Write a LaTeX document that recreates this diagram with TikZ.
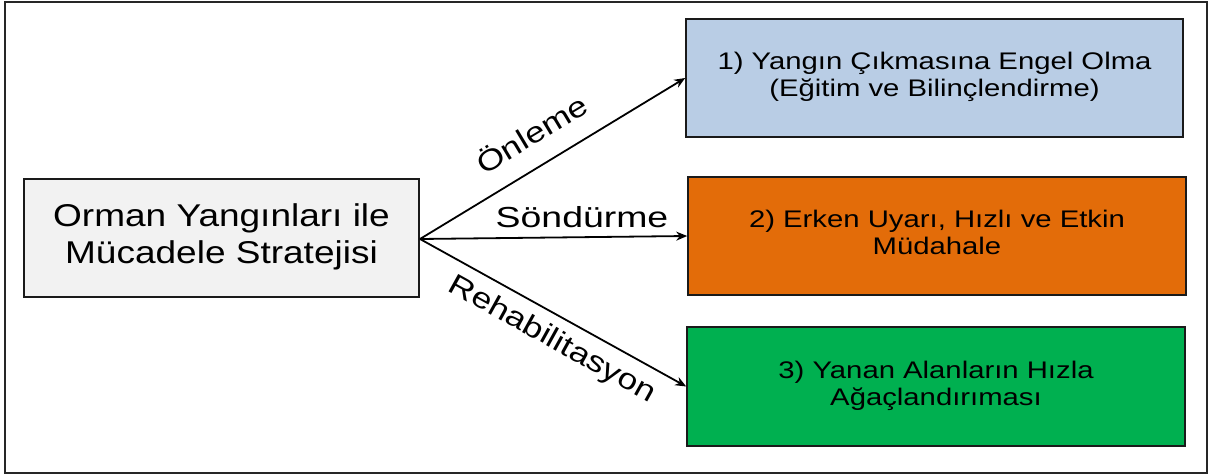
\documentclass[tikz,border=0pt]{standalone}
\usepackage{fontspec}
\setmainfont{Liberation Sans}
\usepackage{graphicx}
\usetikzlibrary{arrows.meta}
\definecolor{bluebox}{HTML}{B9CDE5}
\definecolor{orangebox}{HTML}{E36C09}
\definecolor{greenbox}{HTML}{00B050}
\definecolor{graybox}{HTML}{F2F2F2}
\definecolor{edgecol}{HTML}{1A1A1A}
\newcommand{\hstretch}[2]{\scalebox{#1}[1]{\begin{tabular}{@{}c@{}}#2\end{tabular}}}
\begin{document}
\begin{tikzpicture}[x=1pt,y=-1pt,
  box/.style={draw=edgecol,line width=1.6pt,inner sep=0pt,minimum height=118pt},
  boxtext/.style={font=\fontsize{24}{27}\selectfont},
  lbl/.style={font=\fontsize{29}{32}\selectfont,inner sep=0pt},
  conn/.style={line width=1.8pt,-{Stealth[length=11pt,width=9pt]}}]
\useasboundingbox (0,0) rectangle (1212,476);
\draw[line width=2.2pt,draw=black!85] (5,2) rectangle (1207,473);
\node[box,fill=graybox,minimum width=395pt,font=\fontsize{31.5}{37}\selectfont] (main) at (221.5,238)
  {\hstretch{1.175}{Orman Yangınları ile\\Mücadele Stratejisi}};
\node[box,fill=bluebox,minimum width=497pt,boxtext] (b1) at (934.5,78)
  {\hstretch{1.22}{1) Yangın Çıkmasına Engel Olma\\(Eğitim ve Bilinçlendirme)}};
\node[box,fill=orangebox,minimum width=498pt,boxtext] (b2) at (937,236)
  {\hstretch{1.22}{2) Erken Uyarı, Hızlı ve Etkin\\Müdahale}};
\node[box,fill=greenbox,minimum width=498pt,minimum height=119pt,boxtext] (b3) at (936,386.5)
  {\hstretch{1.22}{3) Yanan Alanların Hızla\\Ağaçlandırıması}};
\coordinate (hub) at (420,239);
\draw[conn] (hub) -- (b1.west);
\draw[conn] (hub) -- (b2.west);
\draw[conn] (hub) -- (b3.west);
\node[lbl,rotate=31] (l1) at (531,133) {\scalebox{1.22}[1]{Önleme}};
\node[lbl] (l2) at (582,217.5) {\scalebox{1.29}[1]{Söndürme}};
\node[lbl,rotate=-29] (l3) at (552,340) {\scalebox{1.22}[1]{Rehabilitasyon}};
\end{tikzpicture}
\end{document}
